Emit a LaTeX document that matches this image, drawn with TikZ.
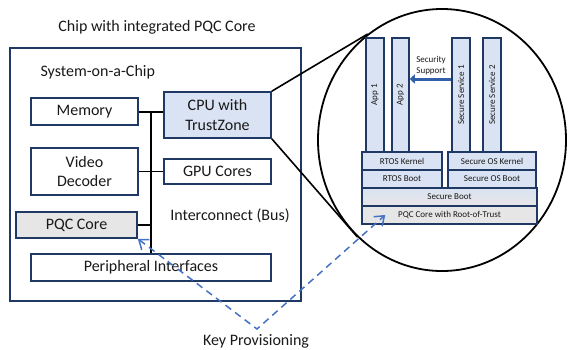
\documentclass[tikz,border=0pt]{standalone}
\usepackage{fontspec}
\setmainfont{Carlito}
\usepackage{tikz}
\usetikzlibrary{
  shapes.geometric,
  arrows.meta,
  positioning
}
\definecolor{bordercolor}{RGB}{31, 56, 100}
\definecolor{cpucolor}{RGB}{218, 227, 243}
\definecolor{pqccolor}{RGB}{231, 230, 230}
\definecolor{keycolor}{RGB}{68, 114, 196}
\definecolor{supportcolor}{RGB}{52, 96, 170}
\definecolor{labelcolor}{RGB}{25, 25, 25}
\tikzset{
bigtext/.style={
  font=\fontsize{16}{19.5}\selectfont,
  text=labelcolor,
  align=center
},
smalltext/.style={
  font=\fontsize{9}{11}\selectfont,
  text=labelcolor,
  align=center
},
socblock/.style={
  draw=bordercolor,
  line width=1.6pt,
  fill=white,
  inner sep=0pt,
  bigtext
},
stackblock/.style={
  draw=bordercolor,
  line width=1.5pt,
  fill=cpucolor,
  inner sep=0pt,
  smalltext
},
busline/.style={
  draw=black,
  line width=1.4pt
},
zoomline/.style={
  draw=black,
  line width=1.6pt
},
keyarrow/.style={
  draw=keycolor,
  line width=1.5pt,
  dash pattern=on 7pt off 5pt,
  {Straight Barb[length=3mm,width=4.5mm]}-{Straight Barb[length=3mm,width=4.5mm]}
},
supportarrow/.style={
  draw=supportcolor,
  line width=3pt,
  -{Triangle[length=5pt,width=9pt]}
}
}

\begin{document}
\begin{tikzpicture}[x=1pt, y=-1pt]
  \useasboundingbox (0,0) rectangle (568,349);

  % Chip and SoC frame
  \node[bigtext] (title) at (157,27) {Chip with integrated PQC Core};
  \draw[bordercolor, line width=1.8pt] (10,48) rectangle (301,301);
  \node[bigtext, anchor=west] (soclabel) at (37,72) {System-on-a-Chip};

  % SoC blocks
  \node[socblock, minimum width=107, minimum height=27] (memory) at (84.5,111.5) {Memory};
  \node[socblock, fill=cpucolor, minimum width=107, minimum height=46] (cpu) at (217.5,115) {CPU with\\TrustZone};
  \node[socblock, minimum width=107, minimum height=47] (video) at (84.5,171.5) {Video\\Decoder};
  \node[socblock, minimum width=107, minimum height=25] (gpu) at (217.5,171.5) {GPU Cores};
  \node[socblock, fill=pqccolor, minimum width=121, minimum height=26] (pqc) at (76.5,225) {PQC Core};
  \node[socblock, minimum width=240, minimum height=27] (periph) at (151,267.5) {Peripheral Interfaces};
  \node[bigtext] (buslabel) at (230,216) {Interconnect (Bus)};

  % Interconnect
  \coordinate (bustop) at (151,112);
  \draw[busline] (bustop) -- (periph.north);
  \draw[busline] (memory.east |- bustop) -- (cpu.west |- bustop);
  \draw[busline] (video.east) -- (gpu.west);
  \draw[busline] (pqc.east) -- (pqc.east -| periph.north);

  % Zoomed view of the CPU software stack
  \node[draw=black, line width=1.8pt, ellipse, inner sep=0pt,
        minimum width=248, minimum height=262] (lens) at (442,140) {};
  \draw[zoomline] (cpu.north east) -- (lens.125);
  \draw[zoomline] (cpu.south east) -- (lens.229);

  % Applications and secure services
  \node[stackblock, minimum width=18, minimum height=114] (appA) at (375,95) {};
  \node[stackblock, minimum width=17, minimum height=114] (appB) at (400.5,95) {};
  \node[stackblock, minimum width=18, minimum height=114] (svcA) at (461,95) {};
  \node[stackblock, minimum width=18, minimum height=114] (svcB) at (492,95) {};
  \node[smalltext, rotate=90] at (appA) {App 1};
  \node[smalltext, rotate=90] at (appB) {App 2};
  \node[smalltext, rotate=90] at (svcA) {Secure Service 1};
  \node[smalltext, rotate=90] at (svcB) {Secure Service 2};

  \draw[supportarrow] ([yshift=16pt]svcA.west) -- ([yshift=16pt]svcA.west -| appB.east);
  \node[smalltext] (supportlabel) at (431,66) {Security\\Support};

  % Kernels, boot layers and root of trust
  \node[stackblock, minimum width=80, minimum height=18] (rtoskernel) at (402,161) {RTOS Kernel};
  \node[stackblock, minimum width=80, minimum height=18] (rtosboot) at (402,179) {RTOS Boot};
  \node[stackblock, minimum width=88, minimum height=18] (oskernel) at (492,161) {Secure OS Kernel};
  \node[stackblock, minimum width=88, minimum height=18] (osboot) at (492,179) {Secure OS Boot};
  \node[stackblock, top color=cpucolor, bottom color=pqccolor, minimum width=175, minimum height=18] (secboot) at (449.5,197) {Secure Boot};
  \node[stackblock, fill=pqccolor, minimum width=175, minimum height=18] (rot) at (449.5,215) {PQC Core with Root-of-Trust};

  % Key provisioning paths
  \node[bigtext] (keylabel) at (256,341) {Key Provisioning};
  \coordinate (keyvertex) at (257,329);
  \coordinate (rottip) at ([xshift=24pt]rot.west);
  \draw[keyarrow] (pqc.south east) -- (keyvertex) -- (rottip);
\end{tikzpicture}
\end{document}
